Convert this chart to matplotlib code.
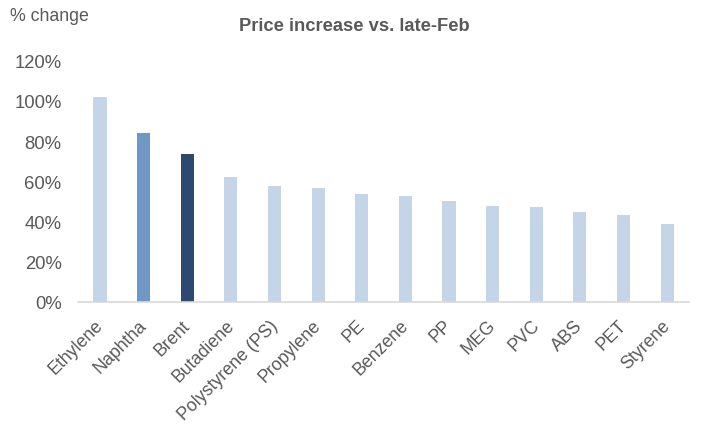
import matplotlib
matplotlib.use("Agg")
import matplotlib.pyplot as plt
import matplotlib.transforms as mtransforms
from matplotlib.ticker import FuncFormatter

plt.rcParams['font.family'] = ['Liberation Sans', 'DejaVu Sans']

# Data
categories = ["Ethylene", "Naphtha", "Brent", "Butadiene", "Polystyrene (PS)",
              "Propylene", "PE", "Benzene", "PP", "MEG", "PVC", "ABS", "PET", "Styrene"]
values = [102.3, 84.3, 74.0, 62.5, 58.0, 56.8, 54.0, 53.0, 50.3, 48.2, 47.7, 45.0, 43.3, 38.8]

light = "#C5D5E8"
colors = [light] * len(categories)
colors[1] = "#7098C6"   # Naphtha
colors[2] = "#2C4A70"   # Brent

grey = "#595959"

fig = plt.figure(figsize=(7.11, 4.4), dpi=100)
ax = fig.add_axes([0.11, 0.3136, 0.859, 0.5455])

ax.bar(range(len(categories)), [v / 100 for v in values], width=0.3, color=colors)

ax.set_xlim(-0.5, len(categories) - 0.5)
ax.set_ylim(0, 1.2)
ax.set_yticks([0, 0.2, 0.4, 0.6, 0.8, 1.0, 1.2])
ax.yaxis.set_major_formatter(FuncFormatter(lambda v, p: f"{v * 100:.0f}%"))

ax.set_xticks(range(len(categories)))
ax.set_xticklabels(categories, rotation=45, ha="right", rotation_mode="anchor")

ax.tick_params(axis="both", length=0, colors=grey)
ax.tick_params(axis="y", pad=12, labelsize=13.3)
ax.tick_params(axis="x", pad=11, labelsize=12.8)

# nudge rotated labels a little to the left
shift = mtransforms.ScaledTranslation(-4 / 72, 0, fig.dpi_scale_trans)
for lbl in ax.get_xticklabels():
    lbl.set_transform(lbl.get_transform() + shift)

for s in ["top", "right", "left"]:
    ax.spines[s].set_visible(False)
ax.spines["bottom"].set_color("#D9D9D9")
ax.spines["bottom"].set_linewidth(1.2)

fig.text(0.499, 0.94, "Price increase vs. late-Feb", ha="center", va="center",
         fontsize=13.2, fontweight="bold", color=grey)
fig.text(0.014, 0.963, "% change", ha="left", va="center", fontsize=12.8, color=grey)

plt.savefig("out.png", dpi=100)
